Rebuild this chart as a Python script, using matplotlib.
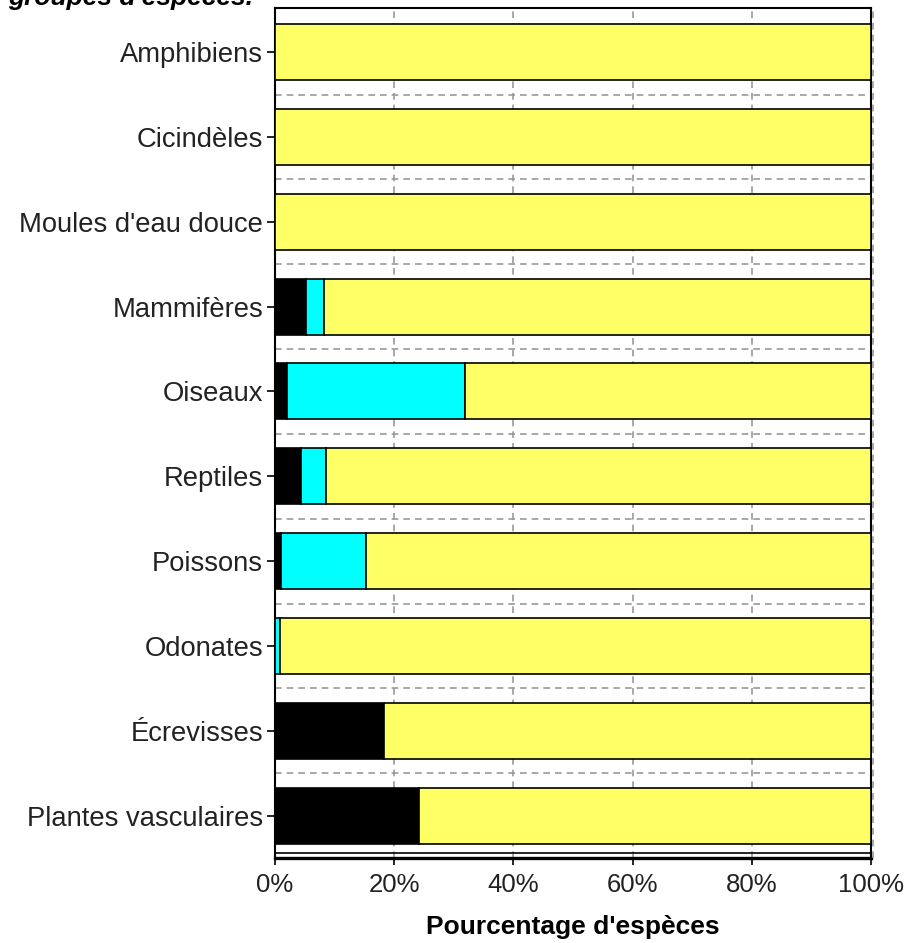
import matplotlib
matplotlib.use("Agg")
import matplotlib.pyplot as plt
import numpy as np

plt.rcParams['font.family'] = ['Liberation Sans', 'DejaVu Sans']

categories = ["Amphibiens", "Cicindèles", "Moules d'eau douce", "Mammifères",
              "Oiseaux", "Reptiles", "Poissons", "Odonates", "Écrevisses",
              "Plantes vasculaires"]
black_pct = [0, 0, 0, 5.2, 2.0, 4.4, 1.0, 0, 18.3, 24.2]
cyan_pct = [0, 0, 0, 3.0, 29.8, 4.2, 14.3, 0.8, 0, 0]
yellow_pct = [100 - b - c for b, c in zip(black_pct, cyan_pct)]
xtick_vals = [0, 20, 40, 60, 80, 100]
xtick_labels = ["0%", "20%", "40%", "60%", "80%", "100%"]

W, H = 908, 943
fig = plt.figure(figsize=(W / 100, H / 100), dpi=100)
ax = fig.add_axes([275 / W, 1 - 858 / H, 596 / W, 850 / H])

y = np.arange(len(categories))
h = 0.66
kw = dict(height=h, edgecolor="black", linewidth=1.2, zorder=3)
ax.barh(y, black_pct, color="black", **kw)
ax.barh(y, cyan_pct, left=black_pct, color="#00ffff", **kw)
left_y = [b + c for b, c in zip(black_pct, cyan_pct)]
ax.barh(y, yellow_pct, left=left_y, color="#ffff66", **kw)

ax.set_xlim(0, 100)
ax.set_ylim(9.5, -0.52)
ax.set_yticks(y)
ax.set_yticklabels(categories, fontsize=19.7, color="#222222")
ax.set_yticks(np.arange(0.5, len(categories) - 1, 1.0), minor=True)
ax.set_xticks(xtick_vals)
ax.set_xticklabels(xtick_labels, fontsize=18.5, color="#222222")
ax.tick_params(axis="y", which="major", length=5.5, width=1.2, pad=3)
ax.tick_params(axis="y", which="minor", length=0)
ax.tick_params(axis="x", length=5, width=1.2, pad=6)

ax.grid(axis="x", which="major", linestyle=(0, (4, 3)), color="#999999", linewidth=1.2, zorder=0)
ax.grid(axis="y", which="minor", linestyle=(0, (4, 3)), color="#999999", linewidth=1.2, zorder=0)
ax.set_axisbelow(True)

for s in ax.spines.values():
    s.set_color("black")
    s.set_linewidth(1.5)
ax.spines["bottom"].set_linewidth(2.4)

# inner border of the lowest strip and dashed line just past 100 %
ax.plot([0, 100], [9.44, 9.44], color="black", linewidth=1.2, zorder=2.6)
ax.axvline(100.3, color="#999999", linestyle=(0, (4, 3)), linewidth=1.2,
           zorder=4, clip_on=False)

ax.set_xlabel("Pourcentage d'espèces", fontsize=19, fontweight="bold")
ax.xaxis.label.set_va("baseline")
ax.xaxis.set_label_coords(0.5 * 596 / 596, (858 - 934) / 850)

fig.text(8 / W, 1 - 5 / H, "groupes d'espèces.", fontsize=19, fontweight="bold",
         fontstyle="italic", ha="left", va="baseline")

fig.savefig("out.png", dpi=100)
